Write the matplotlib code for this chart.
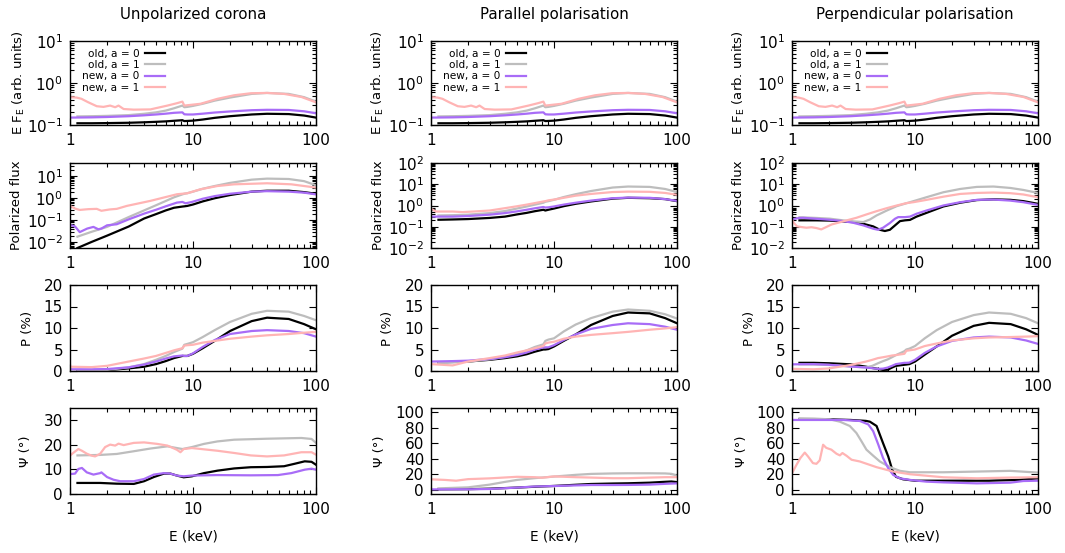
import matplotlib
matplotlib.use("Agg")
import matplotlib.pyplot as plt
from matplotlib.ticker import LogLocator, NullFormatter, FixedLocator

# ---------------- data ----------------
col_titles = ["Unpolarized corona", "Parallel polarisation", "Perpendicular polarisation"]
labels = ["old, a = 0", "old, a = 1", "new, a = 0", "new, a = 1"]
colors = ["#000000", "#bdbdbd", "#a86cf7", "#ffb4b4"]

E_old = [1.15, 1.5, 2, 3, 4, 5, 6, 7, 8.2, 8.5, 9, 10, 12, 15, 20, 30, 40, 60, 80, 100]
E_new = [1.0, 1.5, 2, 3, 4, 5, 6, 7, 8.2, 8.5, 9, 10, 12, 15, 20, 30, 40, 60, 80, 100]

# Row 1: E F_E (same for all columns)
sed_old0 = [0.110, 0.110, 0.111, 0.113, 0.116, 0.119, 0.122, 0.126, 0.130, 0.124, 0.125, 0.127, 0.135, 0.148, 0.162, 0.178, 0.185, 0.182, 0.168, 0.150]
sed_old1 = [0.160, 0.162, 0.165, 0.172, 0.185, 0.200, 0.220, 0.250, 0.290, 0.265, 0.270, 0.285, 0.32, 0.38, 0.45, 0.55, 0.58, 0.55, 0.46, 0.36]
sed_new0 = [0.150, 0.152, 0.155, 0.162, 0.170, 0.178, 0.186, 0.195, 0.200, 0.180, 0.178, 0.178, 0.186, 0.198, 0.210, 0.225, 0.230, 0.228, 0.212, 0.190]
sed_new1_E = [1.0, 1.13, 1.24, 1.4, 1.65, 1.87, 2.12, 2.33, 2.48, 2.73, 3.3, 4.5, 6.2, 7.4, 8.2, 8.5, 11.5, 15.8, 21.6, 29.5, 40, 55, 76, 100]
sed_new1 = [0.46, 0.45, 0.42, 0.35, 0.28, 0.27, 0.29, 0.265, 0.29, 0.24, 0.232, 0.235, 0.29, 0.33, 0.36, 0.29, 0.32, 0.42, 0.51, 0.57, 0.58, 0.55, 0.465, 0.346]

# Row 2: polarized flux
pf_unpol_old0 = [0.0055, 0.0104, 0.020, 0.052, 0.12, 0.19, 0.28, 0.37, 0.42, 0.43, 0.45, 0.52, 0.72, 1.0, 1.4, 2.0, 2.2, 2.2, 1.9, 1.6]
pf_unpol_old1 = [0.018, 0.03, 0.05, 0.14, 0.28, 0.48, 0.75, 1.1, 1.5, 1.6, 1.7, 2.0, 2.7, 3.6, 5.0, 7.0, 7.8, 7.5, 6.0, 3.9]
pf_unpol_new0_E = [1.0, 1.03, 1.1, 1.2, 1.38, 1.55, 1.7, 1.8, 2.0, 2.4, 3, 4, 5, 6, 7.4, 8.2, 8.7, 9.8, 12, 15, 20, 30, 40, 60, 80, 100]
pf_unpol_new0 = [0.06, 0.059, 0.052, 0.029, 0.042, 0.050, 0.039, 0.042, 0.059, 0.066, 0.11, 0.2, 0.3, 0.43, 0.635, 0.68, 0.59, 0.68, 0.95, 1.25, 1.6, 2.0, 2.1, 2.0, 1.8, 1.5]
pf_unpol_new1_E = [1.0, 1.1, 1.2, 1.41, 1.65, 1.8, 2.1, 2.4, 2.9, 4.5, 7.4, 9, 11.5, 15.8, 21.6, 40, 63, 100]
pf_unpol_new1 = [0.45, 0.34, 0.295, 0.32, 0.33, 0.27, 0.31, 0.33, 0.45, 0.76, 1.52, 1.69, 2.56, 3.6, 4.3, 4.8, 4.3, 3.05]

pf_par_old0 = [0.213, 0.22, 0.23, 0.26, 0.30, 0.38, 0.45, 0.54, 0.63, 0.58, 0.63, 0.72, 0.93, 1.2, 1.55, 2.1, 2.3, 2.2, 2.0, 1.6]
pf_par_old1 = [0.34, 0.35, 0.37, 0.44, 0.55, 0.72, 0.9, 1.1, 1.35, 1.5, 1.6, 1.85, 2.5, 3.4, 4.8, 7.0, 7.8, 7.5, 6.0, 4.3]
pf_par_new0 = [0.30, 0.30, 0.32, 0.37, 0.44, 0.53, 0.63, 0.74, 0.85, 0.80, 0.82, 0.9, 1.1, 1.35, 1.7, 2.2, 2.35, 2.3, 2.0, 1.65]
pf_par_new1_E = [1.0, 1.1, 1.2, 1.5, 1.8, 2.2, 3, 4, 5, 6, 7, 8.2, 8.5, 9, 10, 12, 15, 20, 30, 40, 60, 80, 100]
pf_par_new1 = [0.70, 0.52, 0.52, 0.52, 0.49, 0.52, 0.58, 0.75, 0.92, 1.1, 1.3, 1.55, 1.6, 1.75, 1.9, 2.3, 2.9, 3.5, 4.3, 4.5, 4.4, 3.9, 3.2]

pf_perp_old0_E = [1.15, 1.58, 2.03, 2.6, 3.14, 3.79, 4.57, 5.18, 5.69, 6.25, 6.87, 7.55, 8.28, 9.1, 10.3, 12.4, 17, 23.3, 31.8, 43.5, 59.5, 76.4, 100]
pf_perp_old0 = [0.20, 0.20, 0.195, 0.178, 0.166, 0.138, 0.104, 0.072, 0.063, 0.072, 0.115, 0.184, 0.20, 0.21, 0.30, 0.45, 0.9, 1.35, 1.8, 1.95, 1.85, 1.6, 1.2]
pf_perp_old1_E = [1.15, 1.58, 2.03, 2.6, 3.14, 3.8, 4.3, 4.87, 5.9, 7.1, 9.1, 12.4, 17, 23.3, 31.8, 43.5, 59.5, 76, 100]
pf_perp_old1 = [0.28, 0.26, 0.24, 0.20, 0.18, 0.166, 0.22, 0.34, 0.58, 0.93, 1.43, 2.45, 4.2, 6.0, 7.5, 7.8, 6.7, 5.4, 3.9]
pf_perp_new0_E = [1.0, 1.12, 1.23, 1.58, 2.03, 2.6, 3.14, 3.8, 4.57, 5.0, 5.5, 6.25, 6.87, 7.3, 8.3, 9.1, 10.3, 12.4, 17, 23.3, 31.8, 43.5, 59.5, 76, 100]
pf_perp_new0 = [0.22, 0.255, 0.264, 0.237, 0.213, 0.184, 0.154, 0.116, 0.081, 0.072, 0.09, 0.15, 0.237, 0.284, 0.284, 0.30, 0.41, 0.58, 1.0, 1.43, 1.84, 1.9, 1.7, 1.43, 1.07]
pf_perp_new1_E = [1.0, 1.05, 1.1, 1.19, 1.31, 1.44, 1.58, 1.73, 1.9, 2.1, 2.37, 2.77, 3.34, 4.03, 4.87, 5.9, 7.1, 8.5, 9.7, 12.4, 17, 23.3, 31.8, 43.5, 59.5, 76, 100]
pf_perp_new1 = [0.21, 0.138, 0.104, 0.097, 0.09, 0.095, 0.087, 0.075, 0.097, 0.128, 0.154, 0.198, 0.264, 0.38, 0.54, 0.75, 1.0, 1.29, 1.43, 1.84, 2.6, 3.5, 3.9, 4.07, 3.8, 3.3, 2.45]

# Row 3: polarization degree (%)
P_unpol_old0 = [0.05, 0.1, 0.2, 0.6, 1.0, 1.6, 2.3, 3.0, 3.5, 3.5, 3.5, 4.0, 5.3, 7.0, 9.3, 11.6, 12.4, 12.1, 10.9, 9.7]
P_unpol_old1 = [0.0, 0.1, 0.25, 0.85, 1.6, 2.6, 3.5, 4.4, 5.2, 6.1, 6.3, 6.7, 7.9, 9.5, 11.4, 13.3, 14.0, 13.8, 12.8, 11.8]
P_unpol_new0 = [0.4, 0.4, 0.45, 0.85, 1.5, 2.2, 2.9, 3.4, 3.6, 3.5, 3.5, 4.1, 5.6, 7.2, 8.6, 9.3, 9.5, 9.3, 8.8, 8.0]
P_unpol_new1 = [1.0, 0.9, 1.2, 2.2, 2.9, 3.5, 4.2, 4.8, 5.3, 5.9, 6.0, 6.1, 6.6, 7.0, 7.5, 8.0, 8.3, 8.6, 8.9, 9.1]

P_par_old0 = [2.0, 2.1, 2.2, 2.6, 3.0, 3.4, 3.9, 4.5, 5.0, 5.0, 5.1, 5.7, 7.0, 8.5, 10.7, 12.8, 13.6, 13.4, 12.3, 11.1]
P_par_old1 = [1.9, 2.0, 2.2, 2.7, 3.3, 4.0, 4.8, 5.6, 6.2, 7.0, 7.3, 7.6, 9.2, 10.8, 12.3, 13.8, 14.3, 14.0, 13.2, 12.2]
P_par_new0 = [2.2, 2.3, 2.4, 2.8, 3.2, 3.7, 4.3, 5.0, 5.5, 5.5, 5.5, 6.0, 7.2, 8.5, 9.8, 10.7, 11.1, 10.9, 10.3, 9.6]
P_par_new1 = [1.6, 1.3, 2.2, 3.0, 3.6, 4.3, 4.8, 5.3, 5.8, 6.4, 6.6, 6.8, 7.5, 8.0, 8.4, 8.8, 9.1, 9.6, 9.9, 10.2]

E_old_p = [1.15, 1.5, 2, 3, 4, 4.5, 5, 5.5, 6, 6.5, 7, 8.2, 8.5, 9, 10, 12, 15, 20, 30, 40, 60, 80, 100]
E_new_p = [1.0, 1.5, 2, 3, 4, 4.5, 5, 5.5, 6, 6.5, 7, 8.2, 8.5, 9, 10, 12, 15, 20, 30, 40, 60, 80, 100]
P_perp_old0 = [1.9, 1.9, 1.8, 1.55, 1.0, 0.7, 0.5, 0.25, 0.3, 0.8, 1.2, 1.45, 1.5, 1.6, 2.2, 3.8, 5.7, 8.2, 10.5, 11.2, 10.9, 9.7, 8.4]
P_perp_old1 = [1.55, 1.5, 1.4, 1.05, 0.85, 1.2, 1.8, 2.3, 2.7, 3.2, 3.7, 4.6, 5.0, 5.2, 5.8, 7.6, 9.5, 11.4, 13.0, 13.6, 13.3, 12.3, 11.1]
P_perp_new0 = [1.55, 1.6, 1.45, 1.05, 0.8, 0.65, 0.5, 0.55, 0.8, 1.2, 1.6, 1.9, 1.9, 1.95, 2.6, 4.2, 5.7, 7.0, 7.8, 8.0, 7.8, 7.1, 6.3]
P_perp_new1 = [0.5, 0.4, 0.6, 1.4, 2.2, 2.6, 3.0, 3.2, 3.4, 3.6, 3.7, 4.0, 4.7, 4.8, 5.0, 5.8, 6.4, 7.1, 7.6, 7.8, 7.9, 8.0, 8.1]

# Row 4: polarization angle (deg)
pa_unpol_old0_E = [1.15, 1.76, 2.4, 3.3, 4.0, 4.8, 5.8, 6.55, 7.4, 8.4, 9.8, 12.3, 15.8, 21.6, 29.5, 40, 55, 67, 81, 92, 100]
pa_unpol_old0 = [4.5, 4.5, 4.2, 4.1, 5.2, 6.9, 8.3, 8.3, 7.5, 6.8, 7.2, 8.5, 9.5, 10.4, 10.9, 11.0, 11.3, 12.3, 13.3, 13.1, 11.9]
pa_unpol_old1_E = [1.15, 1.76, 2.4, 3.3, 4.5, 6.2, 7.4, 8.2, 9.8, 12.3, 15.8, 21.6, 40, 76, 92, 100]
pa_unpol_old1 = [15.7, 15.9, 16.3, 17.4, 18.5, 19.4, 18.7, 18.3, 19.1, 20.4, 21.4, 22.1, 22.5, 22.8, 22.4, 20.8]
pa_unpol_new0_E = [1.0, 1.1, 1.17, 1.25, 1.37, 1.55, 1.76, 1.8, 2.0, 2.26, 2.56, 3.3, 4.0, 4.8, 5.8, 6.55, 7.4, 8.4, 9.8, 15.8, 29.5, 49, 63, 81, 92, 100]
pa_unpol_new0 = [8.1, 8.3, 10.2, 10.6, 8.8, 7.9, 8.5, 8.8, 6.9, 5.8, 5.2, 5.2, 6.1, 7.9, 8.5, 8.3, 7.5, 7.2, 7.5, 7.7, 7.6, 7.7, 8.5, 9.9, 10.3, 9.9]
pa_unpol_new1_E = [1.0, 1.06, 1.17, 1.25, 1.37, 1.5, 1.6, 1.76, 1.93, 2.12, 2.33, 2.48, 2.73, 3.3, 4.0, 5.1, 6.2, 7.4, 7.9, 8.4, 9.8, 15.8, 21.6, 29.5, 40, 55, 76, 92, 100]
pa_unpol_new1 = [15.6, 16.7, 18.3, 17.6, 16.4, 15.6, 15.3, 16.4, 19.1, 20.1, 19.7, 20.5, 19.9, 20.8, 21.0, 20.4, 19.7, 18.0, 17.0, 18.3, 18.7, 17.6, 16.7, 15.7, 15.3, 15.7, 17.0, 17.0, 16.0]

pa_par_old0_E = [1.15, 2, 3, 5, 7, 10, 15, 20, 30, 40, 60, 80, 90, 100]
pa_par_old0 = [1.0, 1.2, 1.8, 3.2, 4.3, 5.3, 6.8, 7.8, 8.4, 8.7, 9.5, 10.6, 11.0, 10.2]
pa_par_old1_E = [1.15, 2, 3, 4, 5, 7, 10, 15, 20, 30, 40, 60, 80, 90, 100]
pa_par_old1 = [2.2, 3.5, 7.0, 10.5, 13.0, 15.3, 17.3, 19.5, 20.7, 21.3, 21.5, 21.5, 21.3, 20.8, 18.5]
pa_par_new0_E = [1.0, 2, 3, 5, 7, 10, 15, 20, 30, 40, 60, 80, 100]
pa_par_new0 = [0.9, 1.0, 1.4, 3.2, 4.6, 5.2, 6.0, 6.5, 6.5, 6.6, 7.0, 8.0, 8.6]
pa_par_new1_E = [1.0, 1.3, 1.6, 2, 3, 5, 7, 8, 10, 15, 20, 30, 40, 60, 80, 100]
pa_par_new1 = [13.8, 13.0, 12.0, 14.0, 15.0, 17.0, 16.5, 15.8, 17.5, 16.5, 16.0, 15.2, 15.2, 16.0, 16.5, 16.5]

pa_perp_old0_E = [1.15, 2, 3, 4, 4.3, 4.87, 5.5, 6.06, 6.5, 7, 8, 10, 20, 40, 70, 100]
pa_perp_old0 = [90.5, 90.5, 89.7, 88.5, 87.5, 82, 60, 43, 27, 17, 13.8, 12, 12, 12, 13, 15]
pa_perp_old1_E = [1.15, 1.5, 2.03, 2.45, 2.95, 3.34, 3.67, 4.03, 4.57, 5.18, 6.25, 7.55, 9.1, 17, 31.8, 59.5, 100]
pa_perp_old1 = [91.8, 91.5, 90.5, 87.5, 82, 73, 62.5, 51.7, 44, 36.6, 29.3, 24.6, 22.8, 22.8, 23.7, 24.6, 22.4]
pa_perp_new0_E = [1.0, 2.6, 3.56, 4.17, 4.57, 5.03, 5.5, 6.06, 6.65, 7.55, 9.1, 12.4, 17, 31.8, 59.5, 76, 100]
pa_perp_new0 = [89.7, 89.7, 88.4, 84, 75.4, 58.2, 41, 28, 19.4, 15, 13, 10.8, 9.9, 8.6, 9.5, 11.6, 12]
pa_perp_new1_E = [1.0, 1.085, 1.17, 1.27, 1.35, 1.48, 1.58, 1.68, 1.79, 1.9, 2.09, 2.3, 2.45, 2.57, 2.77, 3.05, 3.56, 4.87, 6.65, 9.1, 17, 31.8, 59.5, 100]
pa_perp_new1 = [21.5, 32, 41, 48, 43, 34.5, 33.6, 38, 58, 54, 51.7, 46.5, 44.4, 47.4, 44, 38.8, 36.6, 29.3, 23.7, 20.3, 16.4, 15.1, 16, 16.4]

# ---------------- figure ----------------
plt.rcParams["font.family"] = ["DejaVu Sans"]
W, H = 1065, 553
fig = plt.figure(figsize=(W / 100, H / 100), dpi=100)

col_left = [70, 431, 792]
col_w = 246
row_top = [41, 163, 285, 408]
row_h = [84, 85, 86, 86]
# y-label centre x offsets (pixels, relative to axes left)
ylab_off = [[-51, -53, -53], [-53, -53, -53], [-43, -43, -43], [-45, -51, -50]]

sed_curves = [(E_old, sed_old0), (E_old, sed_old1), (E_new, sed_new0), (sed_new1_E, sed_new1)]
pf_curves = [
    [(E_old, pf_unpol_old0), (E_old, pf_unpol_old1), (pf_unpol_new0_E, pf_unpol_new0), (pf_unpol_new1_E, pf_unpol_new1)],
    [(E_old, pf_par_old0), (E_old, pf_par_old1), (E_new, pf_par_new0), (pf_par_new1_E, pf_par_new1)],
    [(pf_perp_old0_E, pf_perp_old0), (pf_perp_old1_E, pf_perp_old1), (pf_perp_new0_E, pf_perp_new0), (pf_perp_new1_E, pf_perp_new1)],
]
P_curves = [
    [(E_old, P_unpol_old0), (E_old, P_unpol_old1), (E_new, P_unpol_new0), (E_new, P_unpol_new1)],
    [(E_old, P_par_old0), (E_old, P_par_old1), (E_new, P_par_new0), (E_new, P_par_new1)],
    [(E_old_p, P_perp_old0), (E_old_p, P_perp_old1), (E_new_p, P_perp_new0), (E_new_p, P_perp_new1)],
]
pa_curves = [
    [(pa_unpol_old0_E, pa_unpol_old0), (pa_unpol_old1_E, pa_unpol_old1), (pa_unpol_new0_E, pa_unpol_new0), (pa_unpol_new1_E, pa_unpol_new1)],
    [(pa_par_old0_E, pa_par_old0), (pa_par_old1_E, pa_par_old1), (pa_par_new0_E, pa_par_new0), (pa_par_new1_E, pa_par_new1)],
    [(pa_perp_old0_E, pa_perp_old0), (pa_perp_old1_E, pa_perp_old1), (pa_perp_new0_E, pa_perp_new0), (pa_perp_new1_E, pa_perp_new1)],
]

TICK_FS = 11
LABEL_FS = 9.5
LW = 1.6


def style(ax, ylog):
    ax.set_xscale("log")
    ax.set_xlim(1, 100)
    ax.xaxis.set_major_locator(FixedLocator([1, 10, 100]))
    ax.set_xticklabels(["1", "10", "100"])
    ax.tick_params(which="both", direction="in", top=True, right=True, labelsize=TICK_FS, width=0.8)
    ax.tick_params(which="major", length=5)
    ax.tick_params(which="minor", length=2.6)
    ax.tick_params(axis="x", pad=6)
    ax.tick_params(axis="y", pad=5)
    for s in ax.spines.values():
        s.set_linewidth(1.0)
    if ylog:
        ax.set_yscale("log")
        ax.yaxis.set_major_locator(LogLocator(base=10, numticks=20))
        ax.yaxis.set_minor_locator(LogLocator(base=10, subs=range(2, 10), numticks=20))
        ax.yaxis.set_minor_formatter(NullFormatter())
    else:
        ax.minorticks_off()
    ax.xaxis.set_minor_locator(LogLocator(base=10, subs=range(2, 10), numticks=20))
    ax.xaxis.set_minor_formatter(NullFormatter())


def ylab(ax, text, r, c):
    ax.set_ylabel(text, fontsize=LABEL_FS, va="center")
    ax.yaxis.set_label_coords(ylab_off[r][c] / col_w, 0.5)


for c in range(3):
    axes = []
    for r in range(4):
        ax = fig.add_axes([col_left[c] / W, 1 - (row_top[r] + row_h[r]) / H, col_w / W, row_h[r] / H])
        axes.append(ax)
    a1, a2, a3, a4 = axes

    # row 1
    for (x, y), col, lab in zip(sed_curves, colors, labels):
        a1.plot(x, y, color=col, lw=LW, label=lab)
    style(a1, True)
    a1.set_ylim(0.1, 10)
    ylab(a1, "E F$_\\mathrm{E}$ (arb. units)", 0, c)
    a1.set_title(col_titles[c], fontsize=10.8, pad=16)
    a1.legend(loc="upper right", bbox_to_anchor=(0.40, 0.945), frameon=False, markerfirst=False,
              fontsize=7.6, handlelength=1.9, handletextpad=0.55, labelspacing=0.12,
              borderaxespad=0.0, borderpad=0.3)

    # row 2
    for (x, y), col in zip(pf_curves[c], colors):
        a2.plot(x, y, color=col, lw=LW)
    style(a2, True)
    if c == 0:
        a2.set_ylim(0.0055, 40)
    else:
        a2.set_ylim(0.01, 100)
    ylab(a2, "Polarized flux", 1, c)

    # row 3
    for (x, y), col in zip(P_curves[c], colors):
        a3.plot(x, y, color=col, lw=LW)
    style(a3, False)
    a3.set_ylim(0, 20)
    a3.set_yticks([0, 5, 10, 15, 20])
    ylab(a3, "P (%)", 2, c)

    # row 4
    for (x, y), col in zip(pa_curves[c], colors):
        a4.plot(x, y, color=col, lw=LW)
    style(a4, False)
    if c == 0:
        a4.set_ylim(0, 35)
        a4.set_yticks([0, 10, 20, 30])
    else:
        a4.set_ylim(-5, 105)
        a4.set_yticks([0, 20, 40, 60, 80, 100])
    ylab(a4, "Ψ (°)", 3, c)
    a4.set_xlabel("E (keV)", fontsize=9.8, labelpad=9)

fig.savefig("out.png", dpi=100)
